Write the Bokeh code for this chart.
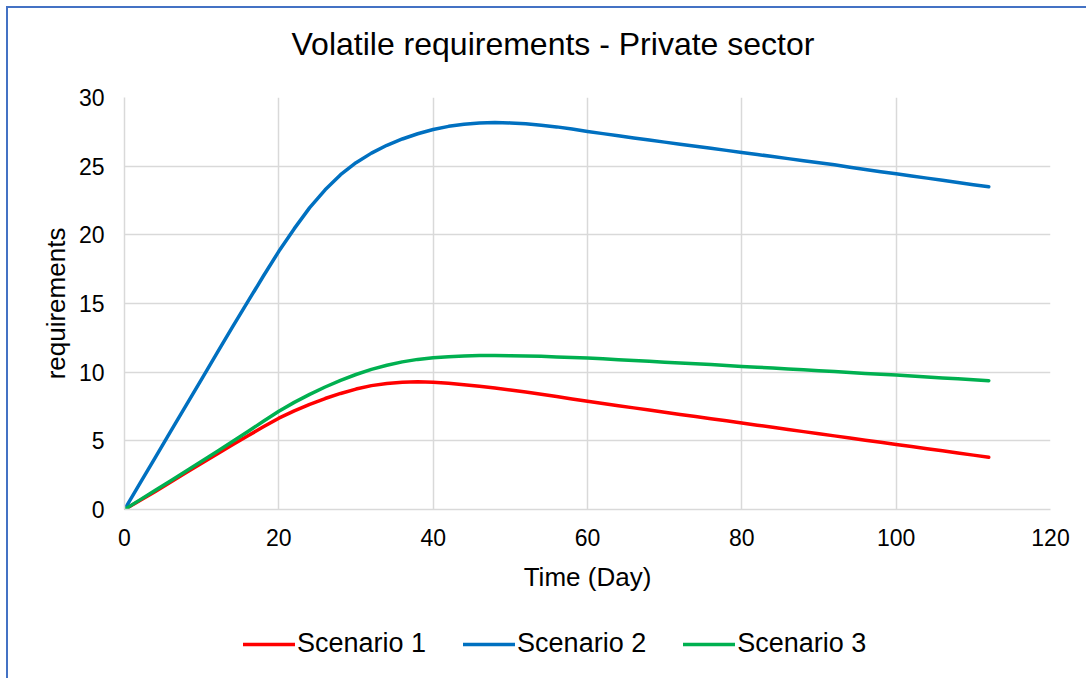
from bokeh.plotting import figure
from bokeh.layouts import column
from bokeh.models import Legend, LegendItem, SingleIntervalTicker, Range1d, Title
from bokeh.embed import file_html
from bokeh.resources import INLINE

days = [0, 2, 4, 6, 8, 10, 12, 14, 16, 18, 20, 22, 24, 26, 28, 30, 32, 34, 36, 38,
        40, 42, 44, 46, 48, 50, 52, 54, 56, 58, 60, 62, 64, 66, 68, 70, 72, 74, 76, 78,
        80, 82, 84, 86, 88, 90, 92, 94, 96, 98, 100, 102, 104, 106, 108, 110, 112]
scenario1 = [0, 0.66, 1.32, 2.0, 2.7, 3.37, 4.05, 4.72, 5.37, 6.02,
             6.65, 7.18, 7.66, 8.08, 8.45, 8.77, 9.02, 9.18, 9.27, 9.3,
             9.26, 9.19, 9.09, 8.98, 8.85, 8.7, 8.55, 8.39, 8.23, 8.05,
             7.88, 7.72, 7.56, 7.4, 7.24, 7.08, 6.92, 6.77, 6.61, 6.46,
             6.3, 6.14, 5.99, 5.83, 5.67, 5.52, 5.36, 5.2, 5.05, 4.89,
             4.73, 4.58, 4.42, 4.27, 4.11, 3.96, 3.8]
scenario2 = [0, 1.9, 3.8, 5.7, 7.6, 9.5, 11.4, 13.3, 15.15, 17.0,
             18.8, 20.45, 21.98, 23.28, 24.38, 25.25, 25.95, 26.52, 26.98, 27.36,
             27.67, 27.9, 28.05, 28.14, 28.18, 28.15, 28.08, 27.98, 27.86, 27.7,
             27.53, 27.37, 27.21, 27.05, 26.9, 26.75, 26.6, 26.45, 26.3, 26.15,
             26.0, 25.85, 25.7, 25.55, 25.4, 25.25, 25.1, 24.92, 24.76, 24.6,
             24.45, 24.29, 24.13, 23.97, 23.81, 23.65, 23.5]
scenario3 = [0, 0.7, 1.4, 2.1, 2.8, 3.51, 4.22, 4.95, 5.68, 6.42,
             7.15, 7.8, 8.38, 8.92, 9.4, 9.83, 10.2, 10.5, 10.75, 10.93,
             11.05, 11.13, 11.18, 11.21, 11.22, 11.2, 11.18, 11.15, 11.11, 11.07,
             11.03, 10.97, 10.91, 10.85, 10.79, 10.73, 10.67, 10.61, 10.55, 10.48,
             10.42, 10.36, 10.3, 10.23, 10.17, 10.1, 10.04, 9.98, 9.91, 9.85,
             9.79, 9.72, 9.65, 9.58, 9.52, 9.45, 9.38]
names = ["Scenario 1", "Scenario 2", "Scenario 3"]
colors = ["#FF0000", "#0070C0", "#00B050"]
chart_title = "Volatile requirements  - Private sector"

FONT = "Liberation Sans"

p = figure(width=1078, height=600, output_backend="svg", toolbar_location=None,
           x_range=Range1d(0, 120), y_range=Range1d(0, 30),
           min_border_left=116, min_border_right=36, min_border_top=89,
           min_border_bottom=99)

# spacer between frame and title, then the title itself
p.add_layout(Title(text=" ", text_font_size="1px", standoff=28), "above")
p.add_layout(Title(text=chart_title, text_font=FONT, text_font_size="32px",
                   text_font_style="normal", text_color="#000000",
                   align="left", offset=167, standoff=10), "above")

p.outline_line_color = None
p.background_fill_color = "white"
p.border_fill_color = "white"

for ax in (p.xaxis[0], p.yaxis[0]):
    ax.axis_line_color = "#D9D9D9"
    ax.axis_line_width = 1.5
    ax.major_tick_line_color = None
    ax.minor_tick_line_color = None
    ax.major_tick_out = 0
    ax.major_tick_in = 0
    ax.major_label_text_font = FONT
    ax.major_label_text_font_size = "23px"
    ax.major_label_text_color = "#000000"
    ax.axis_label_text_font = FONT
    ax.axis_label_text_font_size = "26px"
    ax.axis_label_text_font_style = "normal"
    ax.axis_label_text_color = "#000000"

p.xaxis.ticker = SingleIntervalTicker(interval=20)
p.yaxis.ticker = SingleIntervalTicker(interval=5)
p.xaxis.axis_label = "Time (Day)"
p.yaxis.axis_label = "requirements"
p.xaxis.major_label_standoff = 15
p.yaxis.major_label_standoff = 16
p.xaxis.axis_label_standoff = 13
p.yaxis.axis_label_standoff = 5

p.xgrid.ticker = SingleIntervalTicker(interval=20)
p.ygrid.ticker = SingleIntervalTicker(interval=5)
p.grid.grid_line_color = "#D9D9D9"
p.grid.grid_line_width = 1.5

series = [scenario1, scenario2, scenario3]
for ys, c in zip(series, colors):
    p.line(days, ys, line_color=c, line_width=3.5, line_cap="round", line_join="round")

# legend strip below the chart (its ranges keep the series out of view)
p2 = figure(width=1078, height=70, output_backend="svg", toolbar_location=None,
            x_range=Range1d(1000, 1001), y_range=Range1d(1000, 1001),
            x_axis_type=None, y_axis_type=None,
            min_border_left=0, min_border_right=0, min_border_top=0, min_border_bottom=0)
p2.outline_line_color = None
p2.grid.visible = False
items = []
for name, ys, c in zip(names, series, colors):
    r = p2.line(days, ys, line_color=c, line_width=3.5, line_cap="round")
    items.append(LegendItem(label=name, renderers=[r]))
legend = Legend(items=items, orientation="horizontal", location=(119, 19),
                glyph_width=52, glyph_height=26, label_height=26, label_standoff=2,
                spacing=37, padding=0, margin=0, border_line_color=None,
                background_fill_alpha=0, label_text_font=FONT,
                label_text_font_size="27px", label_text_color="#000000")
p2.add_layout(legend, "center")

layout = column(p, p2, spacing=0,
                styles={"border-left": "2px solid #4472C4", "border-top": "2px solid #4472C4",
                        "margin-left": "6px", "margin-top": "6px"})

open("out.html", "w").write(file_html(layout, INLINE))
